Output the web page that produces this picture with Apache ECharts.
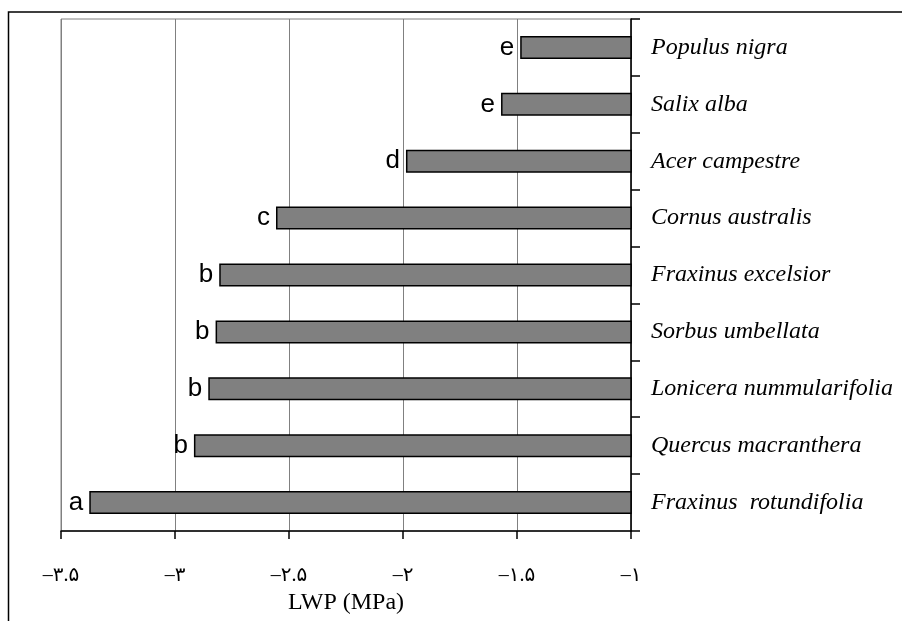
<!DOCTYPE html>
<html>
<head>
<meta charset="utf-8">
<script src="https://cdn.jsdelivr.net/npm/echarts@6/dist/echarts.min.js"></script>
<style>
html,body{margin:0;padding:0;background:#fff;}
#chart{width:902px;height:621px;}
</style>
</head>
<body>
<div id="chart"></div>
<script>
// Categories listed bottom to top
var species = ['Fraxinus  rotundifolia', 'Quercus macranthera', 'Lonicera nummularifolia',
  'Sorbus umbellata', 'Fraxinus excelsior', 'Cornus australis', 'Acer campestre',
  'Salix alba', 'Populus nigra'];
var lwp = [-3.376, -2.917, -2.854, -2.822, -2.806, -2.557, -1.987, -1.570, -1.486];
var letters = ['a', 'b', 'b', 'b', 'b', 'c', 'd', 'e', 'e'];
var tickValues = [-3.5, -3, -2.5, -2, -1.5, -1];
var tickLabels = ['\u2013\u06F3.\u06F5', '\u2013\u06F3', '\u2013\u06F2.\u06F5', '\u2013\u06F2', '\u2013\u06F1.\u06F5', '\u2013\u06F1'];
var axisTitle = 'LWP (MPa)';

var chart = echarts.init(document.getElementById('chart'), null, {renderer: 'canvas'});
chart.setOption({
  backgroundColor: '#fff',
  animation: false,
  graphic: [{
    type: 'rect', silent: true, z: 100,
    shape: {x: 8.5, y: 12, width: 1000, height: 1000},
    style: {fill: 'none', stroke: '#000', lineWidth: 1.5}
  }],
  grid: {left: 61, right: 271, top: 19, bottom: 90, show: true, borderColor: '#808080', borderWidth: 1, backgroundColor: 'transparent'},
  xAxis: {
    type: 'value', min: -3.5, max: -1, interval: 0.5,
    axisLine: {show: true, onZero: false, lineStyle: {color: '#000', width: 1.5}},
    axisTick: {show: true, length: 8, lineStyle: {color: '#000', width: 1.5}},
    splitLine: {show: true, lineStyle: {color: '#808080', width: 1}},
    axisLabel: {
      margin: 35, color: '#000', fontSize: 20, fontFamily: 'Liberation Serif, DejaVu Sans',
      formatter: function (v) {
        var i = tickValues.indexOf(Math.round(v * 10) / 10);
        return i >= 0 ? tickLabels[i] : '';
      }
    },
    name: axisTitle, nameLocation: 'middle', nameGap: 57,
    nameTextStyle: {color: '#000', fontSize: 24, fontFamily: 'Liberation Serif'}
  },
  yAxis: {
    type: 'category', data: species, position: 'right',
    axisLine: {show: true, lineStyle: {color: '#000', width: 1.5}},
    axisTick: {show: true, length: 9, inside: false, lineStyle: {color: '#000', width: 1.5}},
    splitLine: {show: false},
    axisLabel: {margin: 20, color: '#000', fontSize: 24, fontStyle: 'italic', fontFamily: 'Liberation Serif', align: 'left'}
  },
  series: [{
    type: 'bar', data: lwp, barWidth: 23, clip: true,
    itemStyle: {color: '#808080', borderColor: '#000', borderWidth: 1.5},
    label: {
      show: true, position: 'left', distance: 6, color: '#000', fontSize: 26,
      fontFamily: 'Liberation Sans',
      formatter: function (p) { return letters[p.dataIndex]; }
    }
  }]
});
</script>
</body>
</html>
